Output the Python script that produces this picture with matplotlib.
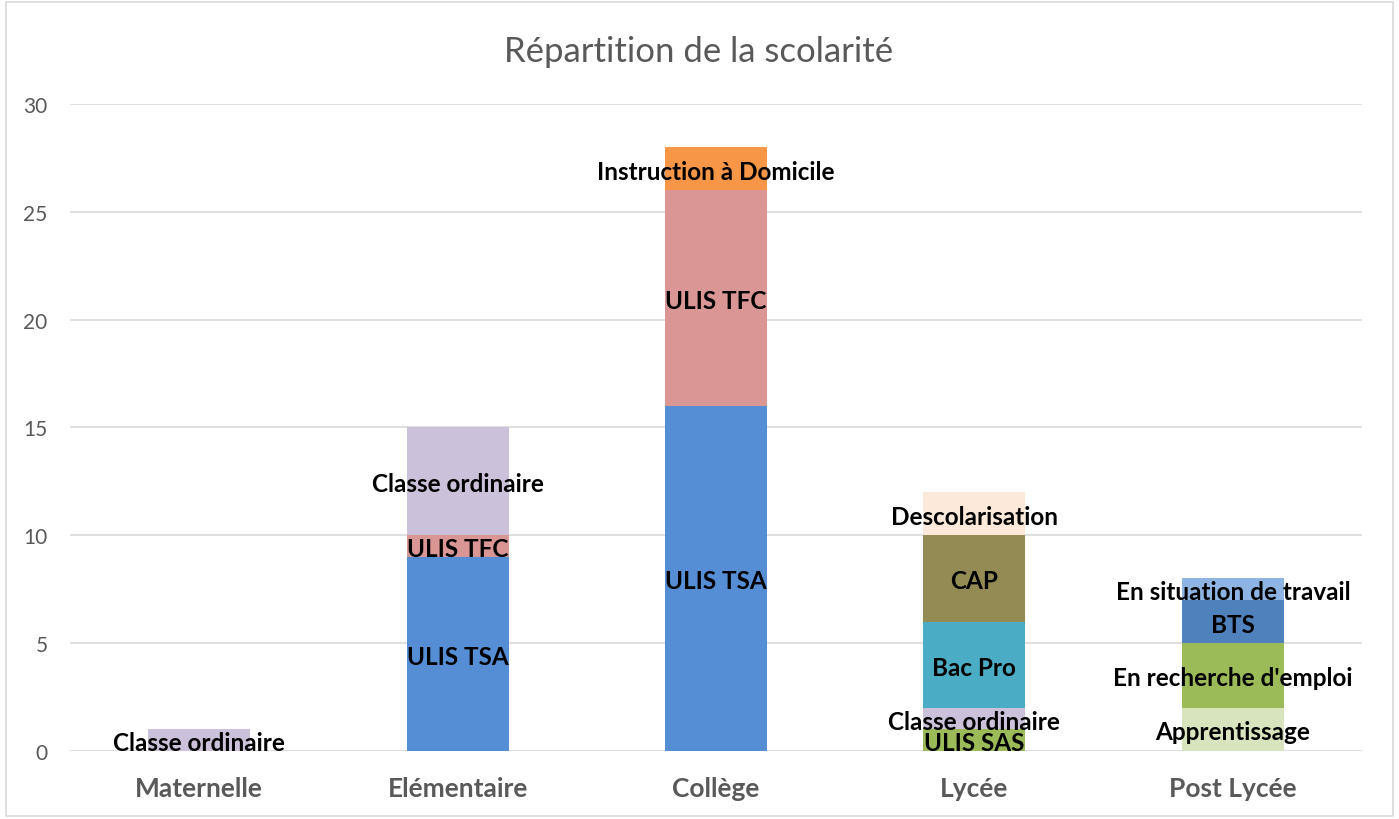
import numpy as np
import matplotlib
matplotlib.use("Agg")
import matplotlib.pyplot as plt
from matplotlib.patches import Rectangle
from matplotlib.transforms import offset_copy

plt.rcParams['font.family'] = ['Lato', 'DejaVu Sans']

categories = ['Maternelle', 'Elémentaire', 'Collège', 'Lycée', 'Post Lycée']

# one list per series, one value per category (stacked bottom -> top)
ulis_sas = [0, 0, 0, 1, 0]
ulis_tsa = [0, 9, 16, 0, 0]
ulis_tfc = [0, 1, 10, 0, 0]
classe_ordinaire = [1, 5, 0, 1, 0]
instruction_domicile = [0, 0, 2, 0, 0]
bac_pro = [0, 0, 0, 4, 0]
cap = [0, 0, 0, 4, 0]
descolarisation = [0, 0, 0, 2, 0]
apprentissage = [0, 0, 0, 0, 2]
recherche_emploi = [0, 0, 0, 0, 3]
bts = [0, 0, 0, 0, 2]
situation_travail = [0, 0, 0, 0, 1]

series = [
    ('ULIS SAS', ulis_sas),
    ('ULIS TSA', ulis_tsa),
    ('ULIS TFC', ulis_tfc),
    ('Classe ordinaire', classe_ordinaire),
    ('Instruction à Domicile', instruction_domicile),
    ('Bac Pro', bac_pro),
    ('CAP', cap),
    ('Descolarisation', descolarisation),
    ('Apprentissage', apprentissage),
    ("En recherche d'emploi", recherche_emploi),
    ('BTS', bts),
    ('En situation de travail', situation_travail),
]

colors = {
    'ULIS SAS': '#9BBB59',
    'ULIS TSA': '#558ED5',
    'ULIS TFC': '#D99694',
    'Classe ordinaire': '#CCC1DA',
    'Instruction à Domicile': '#F79646',
    'Bac Pro': '#4BACC6',
    'CAP': '#948A54',
    'Descolarisation': '#FDE9D9',
    'Apprentissage': '#D7E4BD',
    "En recherche d'emploi": '#9BBB59',
    'BTS': '#4F81BD',
    'En situation de travail': '#8EB4E3',
}

fig = plt.figure(figsize=(13.99, 8.2), dpi=100)
ax = fig.add_axes([0.05, 0.083, 0.9236, 0.789])
lbl_tr = offset_copy(ax.transData, fig=fig, x=0, y=-2.5, units='dots')

x = np.arange(len(categories))
bottom = np.zeros(len(categories))
for name, vals in series:
    vals = np.array(vals, dtype=float)
    ax.bar(x, vals, 0.395, bottom=bottom, color=colors[name], zorder=2)
    for xi, b, v in zip(x, bottom, vals):
        if v > 0:
            ax.text(xi, b + v / 2, name, ha='center', va='center', transform=lbl_tr,
                    fontsize=17.5, fontweight='bold', color='black', zorder=3)
    bottom += vals

ax.set_xlim(-0.5, 4.5)
ax.set_ylim(0, 30)
ax.set_yticks(range(0, 31, 5))
ax.yaxis.grid(True, color='#D9D9D9', linewidth=1.2, zorder=0)
ax.set_axisbelow(True)
for s in ax.spines.values():
    s.set_visible(False)
ax.tick_params(axis='both', length=0)
ax.tick_params(axis='y', labelsize=15, labelcolor='#595959', pad=16)
ax.set_xticks(x)
ax.set_xticklabels(categories, fontsize=19, fontweight='bold', color='#595959')
ax.tick_params(axis='x', pad=18)

fig.text(0.499, 0.936, 'Répartition de la scolarité', ha='center', va='center',
         fontsize=25, color='#595959')

fig.patches.append(Rectangle((0.004, 0.004), 0.992, 0.992, transform=fig.transFigure,
                             fill=False, edgecolor='#D9D9D9', linewidth=1.2))

fig.savefig('out.png', dpi=100)
